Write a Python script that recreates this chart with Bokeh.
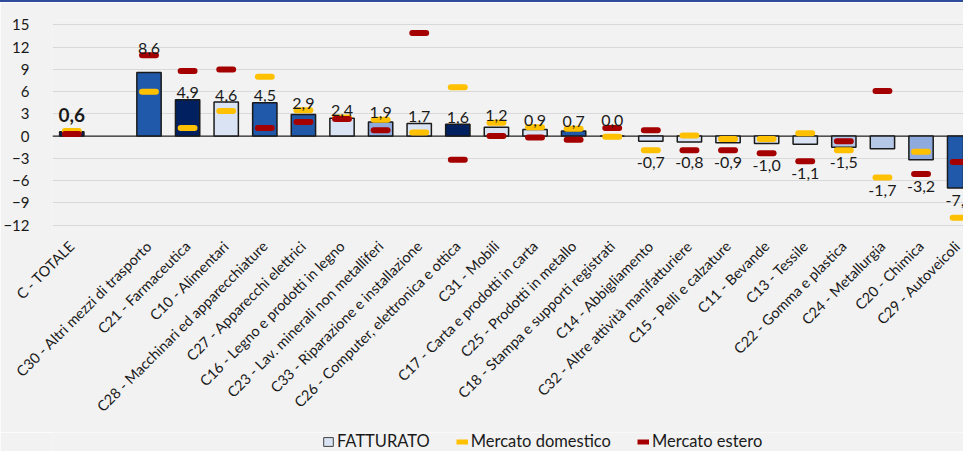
import math
import numpy as np
from bokeh.plotting import figure
from bokeh.layouts import column
from bokeh.models import (ColumnDataSource, FixedTicker, Range1d, Span, Legend,
                          LegendItem, Div)
from bokeh.core.properties import value
from bokeh.embed import file_html
from bokeh.resources import INLINE

# ---------------- data ----------------
categories = [
    "C - TOTALE",
    "C30 - Altri mezzi di trasporto",
    "C21 - Farmaceutica",
    "C10 - Alimentari",
    "C28 - Macchinari ed apparecchiature",
    "C27 - Apparecchi elettrici",
    "C16 - Legno e prodotti in legno",
    "C23 - Lav. minerali non metalliferi",
    "C33 - Riparazione e installazione",
    "C26 - Computer, elettronica e ottica",
    "C31 - Mobili",
    "C17 - Carta e prodotti in carta",
    "C25 - Prodotti in metallo",
    "C18 - Stampa e supporti registrati",
    "C14 - Abbigliamento",
    "C32 - Altre attività manifatturiere",
    "C15 - Pelli e calzature",
    "C11 - Bevande",
    "C13 - Tessile",
    "C22 - Gomma e plastica",
    "C24 - Metallurgia",
    "C20 - Chimica",
    "C29 - Autoveicoli",
]
fatturato = [0.6, 8.6, 4.9, 4.6, 4.5, 2.9, 2.4, 1.9, 1.7, 1.6, 1.2, 0.9, 0.7, 0.0,
             -0.7, -0.8, -0.9, -1.0, -1.1, -1.5, -1.7, -3.2, -7.0]
mercato_domestico = [0.7, 6.0, 1.1, 3.4, 8.0, 3.5, 2.5, 2.2, 0.5, 6.6, 1.8, 1.2, 1.0, -0.1,
                     -1.9, 0.1, -0.4, -0.4, 0.4, -1.9, -5.6, -2.1, -11.0]
mercato_estero = [0.3, 10.9, 8.8, 9.0, 1.1, 1.9, 2.3, 0.8, 13.9, -3.2, 0.0, -0.2, -0.5, 1.1,
                  0.8, -1.9, -1.9, -2.3, -3.4, -0.7, 6.1, -5.1, -3.5]
y_ticks = [-12, -9, -6, -3, 0, 3, 6, 9, 12, 15]
legend_labels = ["FATTURATO", "Mercato domestico", "Mercato estero"]

# ---------------- styles ----------------
NAVY, MED, LIGHT, STEEL, PALE = "#002060", "#2059AA", "#DAE3F3", "#8FAADC", "#B4C7E7"
bar_colors = [NAVY, MED, NAVY, LIGHT, MED, MED, LIGHT, STEEL, LIGHT, NAVY, LIGHT, LIGHT,
              MED, LIGHT, LIGHT, LIGHT, LIGHT, LIGHT, LIGHT, PALE, PALE, STEEL, MED]
YELLOW, RED = "#FFC000", "#A50000"
BG = "#F2F2F2"
FONT = "Lato"
TXT = "#1A1A1A"

W = 963
TOP_RULE = 2
LEG_H = 19
MAIN_H = 451 - TOP_RULE - LEG_H
FRAME_TOP = 18
FRAME_H = 209

# x positions: total first, then a gap of one slot, then the sectors
xs = [0] + [i + 2 for i in range(len(categories) - 1)]


def fmt(v):
    return f"{v:.1f}".replace(".", ",")


def label_anchor(v, d, e):
    if v >= 0:
        near = [m for m in (d, e) if v < m <= v + 3.0]
        return max([v] + near)
    near = [m for m in (d, e) if v - 3.95 <= m < v]
    return min([v] + near)


anchors = [label_anchor(v, d, e) for v, d, e in zip(fatturato, mercato_domestico, mercato_estero)]

src = ColumnDataSource(dict(x=xs, top=fatturato, color=bar_colors,
                            dom=mercato_domestico, est=mercato_estero,
                            x0=[x - 0.18 for x in xs], x1=[x + 0.18 for x in xs]))

pos_idx = [i for i in range(1, len(xs)) if fatturato[i] >= 0]
neg_idx = [i for i in range(1, len(xs)) if fatturato[i] < 0]
pos_src = ColumnDataSource(dict(x=[xs[i] for i in pos_idx], y=[anchors[i] for i in pos_idx],
                                t=[fmt(fatturato[i]) for i in pos_idx]))
neg_src = ColumnDataSource(dict(x=[xs[i] for i in neg_idx], y=[anchors[i] for i in neg_idx],
                                t=[fmt(fatturato[i]) for i in neg_idx]))
tot_src = ColumnDataSource(dict(x=[xs[0]], y=[anchors[0]], t=[fmt(fatturato[0])]))

p = figure(width=W, height=MAIN_H, output_backend="svg", toolbar_location=None,
           x_range=Range1d(-0.5, 23.1), y_range=Range1d(-12.6, 15.6),
           background_fill_color=BG, border_fill_color=BG,
           min_border_left=50, min_border_right=0, min_border_top=FRAME_TOP,
           min_border_bottom=MAIN_H - FRAME_TOP - FRAME_H)
p.outline_line_color = None

# grid
p.xgrid.grid_line_color = None
p.ygrid.ticker = FixedTicker(ticks=y_ticks)
p.ygrid.grid_line_color = "#D9D9D9"
p.ygrid.grid_line_width = 1.2

# zero line
p.add_layout(Span(location=0, dimension="width", line_color="#262626", line_width=1.3,
                  level="underlay"))

# bars
p.vbar(x="x", top="top", bottom=0, width=0.63, fill_color="color",
       line_color="#1A1A1A", line_width=1.5, source=src)

# markers
p.segment(x0="x0", x1="x1", y0="dom", y1="dom", line_color=YELLOW, line_width=6,
          line_cap="round", source=src)
p.segment(x0="x0", x1="x1", y0="est", y1="est", line_color=RED, line_width=6,
          line_cap="round", source=src)

# data labels
p.text(x="x", y="y", text="t", source=pos_src, text_font=value(FONT), text_font_size="16px",
       text_color=TXT, text_align="center", text_baseline="alphabetic", y_offset=-7)
p.text(x="x", y="y", text="t", source=neg_src, text_font=value(FONT), text_font_size="16px",
       text_color=TXT, text_align="center", text_baseline="top", y_offset=7)
p.text(x="x", y="y", text="t", source=tot_src, text_font=value(FONT), text_font_size="19px",
       text_font_style="bold", text_color=TXT, text_align="center",
       text_baseline="alphabetic", y_offset=-16)

# axes
p.yaxis.ticker = FixedTicker(ticks=y_ticks)
p.yaxis.axis_line_color = None
p.yaxis.major_tick_line_color = None
p.yaxis.minor_tick_line_color = None
p.yaxis.major_label_text_font = FONT
p.yaxis.major_label_text_font_size = "15px"
p.yaxis.major_label_text_color = TXT
p.yaxis.major_label_standoff = 17

p.xaxis.ticker = FixedTicker(ticks=xs)
p.xaxis.major_label_overrides = {x: c for x, c in zip(xs, categories)}
p.xaxis.major_label_orientation = math.pi / 4
p.xaxis.axis_line_color = None
p.xaxis.major_tick_line_color = None
p.xaxis.minor_tick_line_color = None
p.xaxis.major_label_text_font = FONT
p.xaxis.major_label_text_font_size = "14.5px"
p.xaxis.major_label_text_color = TXT
p.xaxis.major_label_standoff = 8

# legend strip (separate small figure so the legend is not clipped)
lf = figure(width=W, height=LEG_H, output_backend="svg", toolbar_location=None,
            x_axis_type=None, y_axis_type=None,
            x_range=Range1d(0, 1), y_range=Range1d(0, 1),
            background_fill_color=BG, border_fill_color=BG,
            min_border_left=0, min_border_right=0, min_border_top=0, min_border_bottom=0)
lf.outline_line_color = None
lf.grid.visible = False
proxy = ColumnDataSource(dict(x=[np.nan], y=[np.nan]))
leg_bar = lf.vbar(x="x", top="y", width=0.5, fill_color=LIGHT, line_color="#404040",
                  line_width=1, source=proxy)
leg_dom = lf.segment(x0="x", x1="x", y0="y", y1="y", line_color=YELLOW, line_width=5,
                     source=proxy)
leg_est = lf.segment(x0="x", x1="x", y0="y", y1="y", line_color=RED, line_width=5,
                     source=proxy)
legend = Legend(items=[LegendItem(label=legend_labels[0], renderers=[leg_bar]),
                       LegendItem(label=legend_labels[1], renderers=[leg_dom]),
                       LegendItem(label=legend_labels[2], renderers=[leg_est])],
                orientation="horizontal", location=(270, 0),
                glyph_width=12, glyph_height=11, label_standoff=3, spacing=26,
                label_height=16, padding=0, margin=0, border_line_color=None,
                background_fill_alpha=0,
                label_text_font=FONT, label_text_font_size="16.5px", label_text_color=TXT)
lf.add_layout(legend, "center")

# thin blue rule on top of the chart area
rule = Div(text="", width=W, height=TOP_RULE, margin=0,
           styles={"background-color": "#2E4C9C"})

layout = column(rule, p, lf, spacing=0)
open("out.html", "w").write(file_html(layout, INLINE))
